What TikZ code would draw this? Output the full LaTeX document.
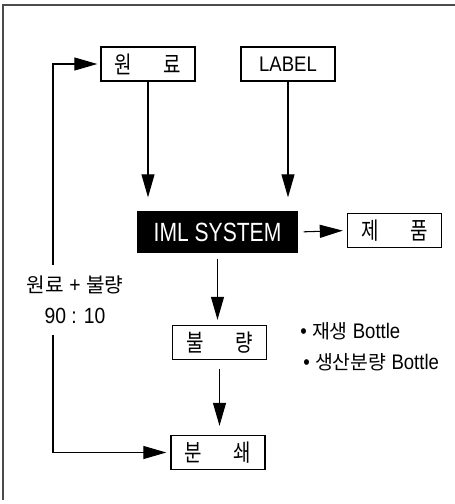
\documentclass[tikz,border=0pt]{standalone}
\usepackage{fontspec}
\setmainfont{Liberation Sans}[FakeStretch=0.88]
\newfontfamily\imlfont{Liberation Sans}[FakeStretch=0.8]
\newfontfamily\kr{Noto Sans CJK KR}[Scale=0.92]
\newfontfamily\krbox{Noto Sans CJK KR}[FakeStretch=0.8]
\usetikzlibrary{arrows.meta,positioning}
\newcommand{\krpair}[2]{{\krbox\fontsize{13.5}{15}\selectfont #1\hspace{18pt}#2}}
\tikzset{
    box/.style    = {rectangle, draw=black, line width=0.8pt, minimum width=1.88cm,
                     minimum height=0.68cm, inner sep=0pt, font=\fontsize{12}{14}\selectfont},
    sysbox/.style = {box, fill=black, text=white, minimum width=3.18cm, minimum height=0.8cm,
                     font=\imlfont\fontsize{15}{17}\selectfont},
    note/.style   = {inner sep=0pt, font=\fontsize{12}{14}\selectfont}
}

\begin{document}
\begin{tikzpicture}[
        x=0.02cm, y=-0.02cm,
        >={Triangle[length=0.46cm, width=0.26cm]},
        flow/.style={->, line width=0.6pt},
        frame/.style={draw=black!70, line width=0.9pt},
        ratio/.style={fill=white, align=center, inner xsep=2pt, minimum height=1.4cm,
                      font=\fontsize{12.5}{14}\selectfont}
    ]
    \useasboundingbox (0,0) rectangle (455,504);
    \draw[frame] (455,5) -- (3,5) -- (3,500);

    % --- Nodes ---
    \node[box] (wonryo) at (148,64) {\krpair{원}{료}};
    \node[box] (label) at (288,64) {LABEL};
    \node[sysbox] (iml) at (217.5,232) {IML SYSTEM};
    \node[box] (jepum) at (394.5,230.5) {\krpair{제}{품}};
    \node[box] (bulryang) at (219.5,342.5) {\krpair{불}{량}};
    \node[box] (bunswae) at (218,452.5) {\krpair{분}{쇄}};
    \coordinate (loop) at (53,300);

    % --- Connections ---
    \draw[flow, shorten >=0.28cm] (wonryo.south) -- (wonryo.south |- iml.north);
    \draw[flow, shorten >=0.28cm] (label.south) -- (label.south |- iml.north);
    \draw[flow, shorten <=0.12cm, shorten >=0.08cm] (iml.east) -- (jepum.west);
    \draw[flow, shorten <=0.12cm, shorten >=0.1cm] (iml.south) -- (iml.south |- bulryang.north);
    \draw[flow, shorten <=0.18cm, shorten >=0.18cm] (bulryang.south) -- (bulryang.south |- bunswae.north);

    % Recycling loop
    \draw[flow, <->, shorten <=0.08cm, shorten >=0.06cm] (bunswae.west) -| (loop) |- (wonryo.west);
    \node[ratio] (mix) at (75,300) {{\kr 원료} + {\kr 불량}\\[3.6pt]90 : 10};

    % Notes
    \node[note, anchor=west] (note1) at (300,331) {• {\kr 재생} Bottle};
    \node[note, anchor=west] (note2) at (303,362) {• {\kr 생산분량} Bottle};
\end{tikzpicture}
\end{document}
